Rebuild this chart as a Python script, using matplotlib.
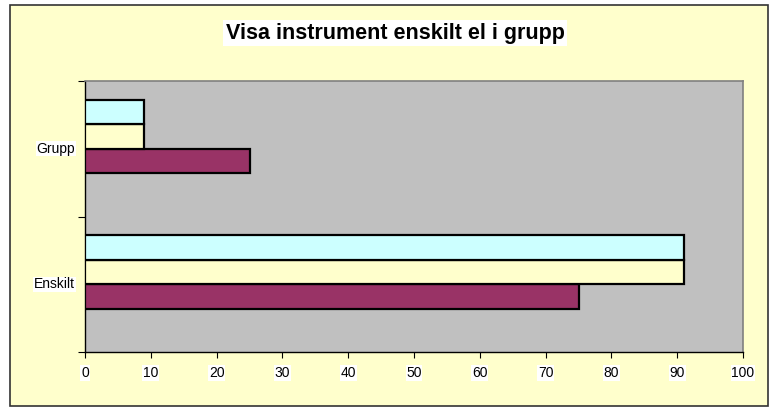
import numpy as np
import matplotlib
matplotlib.use('Agg')
import matplotlib.pyplot as plt
from matplotlib.patches import Rectangle
from matplotlib.transforms import blended_transform_factory

plt.rcParams['font.family'] = ['Liberation Sans', 'DejaVu Sans']

categories = ['Enskilt', 'Grupp']
serie1 = [75, 25]
serie2 = [91, 9]
serie3 = [91, 9]
colors = ['#993366', '#FFFFCC', '#CCFFFF']

W, H = 776, 415
fig = plt.figure(figsize=(W / 100, H / 100), dpi=100)
fig.patch.set_facecolor('white')

# outer chart frame
fig.patches.append(Rectangle((10 / W, 1 - 406 / H), 758 / W, 401 / H,
                             transform=fig.transFigure, facecolor='#FFFFCC',
                             edgecolor='#333333', linewidth=1.2, zorder=-5))

ax = fig.add_axes([85 / W, 1 - 352 / H, (743 - 85) / W, (352 - 81) / H])
ax.set_facecolor('#C0C0C0')

y = np.arange(len(categories))
h = 0.181
offsets = [-0.5, 0.5, 1.5]  # excel stacks the group a bit above the category centre
for i, vals in enumerate([serie1, serie2, serie3]):
    ax.barh(y + offsets[i] * h, vals, height=h, color=colors[i],
            edgecolor='black', linewidth=1.6, zorder=3)

ax.set_xlim(0, 100)
ax.set_ylim(-0.5, 1.5)
ax.set_xticks(range(0, 101, 10))
ax.set_yticks([-0.5, 0.5, 1.5])
ax.set_yticklabels([])
ax.tick_params(axis='y', length=5, direction='out', width=0.8)
ax.tick_params(axis='x', length=4, direction='out', width=0.8, labelsize=10, pad=6)
for lbl in ax.get_xticklabels():
    lbl.set_bbox(dict(facecolor='white', edgecolor='none', pad=0.5))

tr = blended_transform_factory(ax.transAxes, ax.transData)
for yi, name in zip(y, categories):
    ax.text(-10 / 658, yi, name, transform=tr, ha='right', va='center', fontsize=10,
            bbox=dict(facecolor='white', edgecolor='none', pad=0.5))

for s in ['top', 'right']:
    ax.spines[s].set_color('#808080')
    ax.spines[s].set_linewidth(1.2)
for s in ['left', 'bottom']:
    ax.spines[s].set_color('black')
    ax.spines[s].set_linewidth(1)

fig.text(395 / W, 1 - 33 / H, 'Visa instrument enskilt el i grupp', ha='center',
         va='center', fontsize=15.5, fontweight='bold',
         bbox=dict(facecolor='white', edgecolor='none', pad=2))

fig.savefig('out.png', dpi=100, facecolor=fig.get_facecolor())
